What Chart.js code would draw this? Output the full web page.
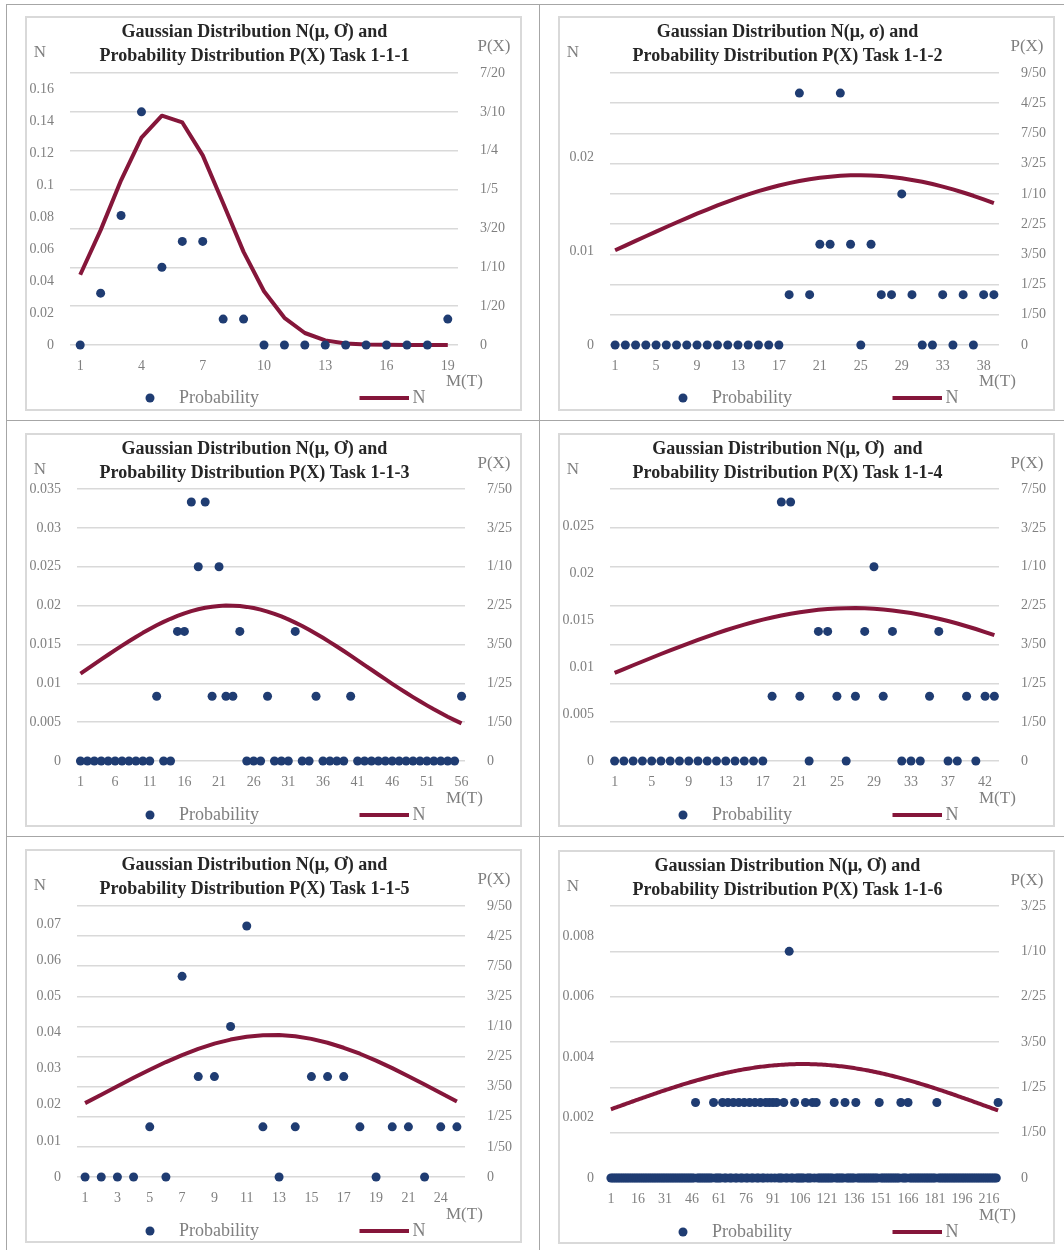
<!DOCTYPE html>
<html>
<head>
<meta charset="utf-8">
<title>Gaussian Distribution and Probability Distribution, Tasks 1-1-1 to 1-1-6</title>
<script src="https://cdn.jsdelivr.net/npm/chart.js"></script>
<style>
  html, body { margin: 0; padding: 0; background: #ffffff; }
  body { width: 1064px; height: 1250px; position: relative; overflow: hidden; }
  .rule { position: absolute; background: #a6a6a6; }
  .frame { position: absolute; border: 2px solid #d9d9d9; box-sizing: border-box; }
  .frame canvas { position: absolute; left: -2px; top: -2px; }
</style>
</head>
<body>
<div class="rule" style="left:6px;top:4px;width:1058px;height:1px"></div>
<div class="rule" style="left:6px;top:420px;width:1058px;height:1px"></div>
<div class="rule" style="left:6px;top:836px;width:1058px;height:1px"></div>
<div class="rule" style="left:6px;top:4px;width:1px;height:1246px"></div>
<div class="rule" style="left:539px;top:4px;width:1px;height:1246px"></div>
<script>
// ---------- Task 1-1-1 ----------
const cats1 = [1, 2, 3, 4, 5, 6, 7, 8, 9, 10, 11, 12, 13, 14, 15, 16, 17, 18, 19];
const prob1 = [0, 0.0667, 0.1667, 0.3, 0.1, 0.1333, 0.1333, 0.0333, 0.0333, 0, 0, 0, 0, 0, 0, 0, 0, 0, 0.0333];
const norm1 = [0.0439, 0.0718, 0.1029, 0.1296, 0.1433, 0.1391, 0.1185, 0.0886, 0.0582, 0.0336, 0.0170, 0.0075, 0.0029, 0.0010, 0.0003, 0.0001, 0.00002, 0, 0];
const leftTicks1 = [0, 0.02, 0.04, 0.06, 0.08, 0.1, 0.12, 0.14, 0.16];
const rightTicks1 = ['0', '1/20', '1/10', '3/20', '1/5', '1/4', '3/10', '7/20'];

// ---------- Task 1-1-2 ----------
const cats2 = [1, 2, 3, 4, 5, 6, 7, 8, 9, 10, 11, 12, 13, 14, 15, 16, 17, 18, 19, 20,
  21, 22, 23, 24, 25, 26, 27, 28, 29, 30, 31, 32, 33, 34, 35, 36, 38, 39];
const prob2 = [0, 0, 0, 0, 0, 0, 0, 0, 0, 0, 0, 0, 0, 0, 0, 0, 0,
  0.0333, 0.1667, 0.0333, 0.0667, 0.0667, 0.1667, 0.0667, 0, 0.0667, 0.0333, 0.0333, 0.1,
  0.0333, 0, 0, 0.0333, 0, 0.0333, 0, 0.0333, 0.0333];
const norm2 = [0.01010, 0.01060, 0.01110, 0.01159, 0.01209, 0.01258, 0.01306, 0.01353, 0.01400, 0.01444,
  0.01488, 0.01529, 0.01568, 0.01605, 0.01640, 0.01671, 0.01700, 0.01726, 0.01748, 0.01768,
  0.01783, 0.01795, 0.01804, 0.01809, 0.01810, 0.01807, 0.01801, 0.01791, 0.01777, 0.01760,
  0.01740, 0.01716, 0.01689, 0.01659, 0.01626, 0.01591, 0.01553, 0.01513];
const leftTicks2 = [0, 0.01, 0.02];
const rightTicks2 = ['0', '1/50', '1/25', '3/50', '2/25', '1/10', '3/25', '7/50', '4/25', '9/50'];

// ---------- Task 1-1-3 ----------
const cats3 = [1, 2, 3, 4, 5, 6, 7, 8, 9, 10, 11, 12, 13, 14, 15, 16, 17, 18, 19, 20,
  21, 22, 23, 24, 25, 26, 27, 28, 29, 30, 31, 32, 33, 34, 35, 36, 37, 38, 39, 40,
  41, 42, 43, 44, 45, 46, 47, 48, 49, 50, 51, 52, 53, 54, 55, 56];
const prob3 = [0, 0, 0, 0, 0, 0, 0, 0, 0, 0,
  0, 0.0333, 0, 0, 0.0667, 0.0667, 0.1333, 0.1, 0.1333, 0.0333,
  0.1, 0.0333, 0.0333, 0.0667, 0, 0, 0, 0.0333, 0, 0,
  0, 0.0667, 0, 0, 0.0333, 0, 0, 0, 0, 0.0333,
  0, 0, 0, 0, 0, 0, 0, 0, 0, 0,
  0, 0, 0, 0, 0, 0.0333];
const norm3 = [0.01125, 0.01186, 0.01247, 0.01307, 0.01367, 0.01427, 0.01485, 0.01541, 0.01596, 0.01649,
  0.01699, 0.01746, 0.01790, 0.01830, 0.01867, 0.01900, 0.01928, 0.01952, 0.01971, 0.01986,
  0.01995, 0.02000, 0.01999, 0.01994, 0.01983, 0.01968, 0.01948, 0.01923, 0.01893, 0.01860,
  0.01823, 0.01781, 0.01737, 0.01689, 0.01638, 0.01585, 0.01530, 0.01473, 0.01415, 0.01355,
  0.01295, 0.01234, 0.01174, 0.01113, 0.01053, 0.00993, 0.00935, 0.00878, 0.00822, 0.00768,
  0.00716, 0.00665, 0.00617, 0.00570, 0.00526, 0.00484];
const leftTicks3 = [0, 0.005, 0.01, 0.015, 0.02, 0.025, 0.03, 0.035];
const rightTicks3 = ['0', '1/50', '1/25', '3/50', '2/25', '1/10', '3/25', '7/50'];

// ---------- Task 1-1-4 ----------
const cats4 = [1, 2, 3, 4, 5, 6, 7, 8, 9, 10, 11, 12, 13, 14, 15, 16, 17, 18, 19, 20,
  21, 22, 23, 24, 25, 26, 27, 28, 29, 30, 31, 32, 33, 34, 35, 36, 37, 38, 39, 40,
  42, 43];
const prob4 = [0, 0, 0, 0, 0, 0, 0, 0, 0, 0, 0, 0, 0, 0, 0, 0, 0,
  0.0333, 0.1333, 0.1333, 0.0333, 0, 0.0667, 0.0667, 0.0333, 0, 0.0333, 0.0667, 0.1,
  0.0333, 0.0667, 0, 0, 0, 0.0333, 0.0667, 0, 0, 0.0333, 0, 0.0333, 0.0333];
const norm4 = [0.00940, 0.00980, 0.01021, 0.01061, 0.01101, 0.01141, 0.01180, 0.01218, 0.01255, 0.01292,
  0.01327, 0.01361, 0.01394, 0.01425, 0.01454, 0.01482, 0.01507, 0.01530, 0.01551, 0.01570,
  0.01586, 0.01600, 0.01612, 0.01620, 0.01626, 0.01629, 0.01630, 0.01628, 0.01623, 0.01615,
  0.01605, 0.01592, 0.01577, 0.01559, 0.01539, 0.01517, 0.01492, 0.01466, 0.01437, 0.01407,
  0.01375, 0.01341];
const leftTicks4 = [0, 0.005, 0.01, 0.015, 0.02, 0.025];
const rightTicks4 = ['0', '1/50', '1/25', '3/50', '2/25', '1/10', '3/25', '7/50'];

// ---------- Task 1-1-5 ----------
const cats5 = [1, 2, 3, 4, 5, 6, 7, 8, 9, 10, 11, 12, 13, 14, 15, 16, 17, 18, 19, 20, 21, 22, 24, 25];
const prob5 = [0, 0, 0, 0, 0.0333, 0, 0.1333, 0.0667, 0.0667, 0.1, 0.1667, 0.0333,
  0, 0.0333, 0.0667, 0.0667, 0.0667, 0.0333, 0, 0.0333, 0.0333, 0, 0.0333, 0.0333];
const norm5 = [0.02045, 0.02278, 0.02512, 0.02745, 0.02969, 0.03181, 0.03375, 0.03546, 0.03690, 0.03803,
  0.03882, 0.03923, 0.03927, 0.03893, 0.03822, 0.03715, 0.03577, 0.03411, 0.03221, 0.03013,
  0.02790, 0.02559, 0.02325, 0.02091];
const leftTicks5 = [0, 0.01, 0.02, 0.03, 0.04, 0.05, 0.06, 0.07];
const rightTicks5 = ['0', '1/50', '1/25', '3/50', '2/25', '1/10', '3/25', '7/50', '4/25', '9/50'];

// ---------- Task 1-1-6 ----------
const cats6 = [1, 2, 3, 4, 5, 6, 7, 8, 9, 10, 11, 12, 13, 14, 15, 16, 17, 18, 19, 20,
  21, 22, 23, 24, 25, 26, 27, 28, 29, 30, 31, 32, 33, 34, 35, 36, 37, 38, 39, 40,
  41, 42, 43, 44, 45, 46, 47, 48, 49, 50, 51, 52, 53, 54, 55, 56, 57, 58, 59, 60,
  61, 62, 63, 64, 65, 66, 67, 68, 69, 70, 71, 72, 73, 74, 75, 76, 77, 78, 79, 80,
  81, 82, 83, 84, 85, 86, 87, 88, 89, 90, 91, 92, 93, 94, 95, 96, 97, 98, 99, 100,
  101, 102, 103, 104, 105, 106, 107, 108, 109, 110, 111, 112, 113, 114, 115, 116, 117, 118, 119, 120,
  121, 122, 123, 124, 125, 126, 127, 128, 129, 130, 131, 132, 133, 134, 135, 136, 137, 138, 139, 140,
  141, 142, 143, 144, 145, 146, 147, 148, 149, 150, 151, 152, 153, 154, 155, 156, 157, 158, 159, 160,
  161, 162, 163, 164, 165, 166, 167, 168, 169, 170, 171, 172, 173, 174, 175, 176, 177, 178, 179, 180,
  181, 182, 183, 184, 185, 186, 187, 188, 189, 190, 191, 192, 193, 194, 195, 196, 197, 198, 199, 200,
  201, 202, 203, 204, 205, 206, 207, 208, 209, 210, 216, 217, 218, 219, 220, 221];
const prob6 = [
  0, 0, 0, 0, 0, 0, 0, 0, 0, 0,
  0, 0, 0, 0, 0, 0, 0, 0, 0, 0,
  0, 0, 0, 0, 0, 0, 0, 0, 0, 0,
  0, 0, 0, 0, 0, 0, 0, 0, 0, 0,
  0, 0, 0, 0, 0, 0, 0, 0.0333, 0, 0,
  0, 0, 0, 0, 0, 0, 0, 0.0333, 0, 0,
  0, 0, 0.0333, 0, 0, 0.0333, 0, 0, 0.0333, 0,
  0, 0.0333, 0, 0, 0.0333, 0, 0, 0.0333, 0, 0,
  0.0333, 0, 0, 0.0333, 0, 0, 0.0333, 0, 0.0333, 0,
  0.0333, 0, 0.0333, 0, 0, 0, 0.0333, 0, 0, 0.1,
  0, 0, 0.0333, 0, 0, 0, 0, 0, 0.0333, 0,
  0, 0, 0.0333, 0, 0.0333, 0, 0, 0, 0, 0,
  0, 0, 0, 0, 0.0333, 0, 0, 0, 0, 0,
  0.0333, 0, 0, 0, 0, 0, 0.0333, 0, 0, 0,
  0, 0, 0, 0, 0, 0, 0, 0, 0, 0.0333,
  0, 0, 0, 0, 0, 0, 0, 0, 0, 0,
  0, 0.0333, 0, 0, 0, 0.0333, 0, 0, 0, 0,
  0, 0, 0, 0, 0, 0, 0, 0, 0, 0,
  0, 0.0333, 0, 0, 0, 0, 0, 0, 0, 0,
  0, 0, 0, 0, 0, 0, 0, 0, 0, 0,
  0, 0, 0, 0, 0, 0, 0, 0, 0, 0,
  0, 0, 0, 0, 0, 0.0333];
const norm6 = [
  0.002274, 0.002295, 0.002317, 0.002338, 0.002360, 0.002381, 0.002403, 0.002424, 0.002446, 0.002467,
  0.002489, 0.002510, 0.002531, 0.002553, 0.002574, 0.002595, 0.002616, 0.002637, 0.002658, 0.002679,
  0.002700, 0.002721, 0.002742, 0.002762, 0.002783, 0.002803, 0.002823, 0.002844, 0.002864, 0.002884,
  0.002904, 0.002923, 0.002943, 0.002962, 0.002982, 0.003001, 0.003020, 0.003039, 0.003058, 0.003076,
  0.003095, 0.003113, 0.003131, 0.003149, 0.003167, 0.003184, 0.003202, 0.003219, 0.003236, 0.003252,
  0.003269, 0.003285, 0.003302, 0.003318, 0.003333, 0.003349, 0.003364, 0.003379, 0.003394, 0.003408,
  0.003423, 0.003437, 0.003451, 0.003464, 0.003478, 0.003491, 0.003503, 0.003516, 0.003528, 0.003540,
  0.003552, 0.003563, 0.003574, 0.003585, 0.003596, 0.003606, 0.003616, 0.003626, 0.003635, 0.003644,
  0.003653, 0.003662, 0.003670, 0.003678, 0.003685, 0.003693, 0.003699, 0.003706, 0.003712, 0.003718,
  0.003724, 0.003729, 0.003734, 0.003739, 0.003743, 0.003747, 0.003751, 0.003755, 0.003758, 0.003760,
  0.003763, 0.003765, 0.003766, 0.003768, 0.003769, 0.003770, 0.003770, 0.003770, 0.003770, 0.003769,
  0.003768, 0.003767, 0.003765, 0.003763, 0.003761, 0.003758, 0.003755, 0.003752, 0.003748, 0.003744,
  0.003740, 0.003735, 0.003730, 0.003725, 0.003720, 0.003714, 0.003707, 0.003701, 0.003694, 0.003687,
  0.003679, 0.003671, 0.003663, 0.003655, 0.003646, 0.003637, 0.003628, 0.003618, 0.003608, 0.003598,
  0.003587, 0.003577, 0.003565, 0.003554, 0.003542, 0.003531, 0.003518, 0.003506, 0.003493, 0.003480,
  0.003467, 0.003453, 0.003440, 0.003426, 0.003411, 0.003397, 0.003382, 0.003367, 0.003352, 0.003336,
  0.003321, 0.003305, 0.003289, 0.003272, 0.003256, 0.003239, 0.003222, 0.003205, 0.003188, 0.003170,
  0.003152, 0.003135, 0.003117, 0.003098, 0.003080, 0.003061, 0.003043, 0.003024, 0.003005, 0.002986,
  0.002966, 0.002947, 0.002927, 0.002908, 0.002888, 0.002868, 0.002848, 0.002828, 0.002807, 0.002787,
  0.002766, 0.002746, 0.002725, 0.002704, 0.002684, 0.002663, 0.002642, 0.002621, 0.002599, 0.002578,
  0.002557, 0.002536, 0.002514, 0.002493, 0.002472, 0.002450, 0.002429, 0.002407, 0.002386, 0.002364,
  0.002343, 0.002321, 0.002299, 0.002278, 0.002256, 0.002235];
const leftTicks6 = [0, 0.002, 0.004, 0.006, 0.008];
const rightTicks6 = ['0', '1/50', '1/25', '3/50', '2/25', '1/10', '3/25'];

// ---------- styling ----------
const FONT = "'Liberation Serif', 'Times New Roman', serif";
const NAVY = '#1f3c72';
const MAROON = '#85163a';
const GRID = '#d9d9d9';
const GREY = '#7f7f7f';
const INK = '#262626';

Chart.defaults.font.family = FONT;
Chart.defaults.color = GREY;

const fracValue = s => { const p = s.split('/'); return p.length > 1 ? Number(p[0]) / Number(p[1]) : Number(p[0]); };

// Title, axis captions and legend drawn around the plot area
const panelText = {
  id: 'panelText',
  afterDraw(chart, _args, o) {
    const ctx = chart.ctx;
    const [dsP, dsN] = chart.data.datasets;
    ctx.save();
    ctx.textBaseline = 'middle';
    ctx.textAlign = 'center';
    ctx.fillStyle = INK;
    ctx.font = 'bold 18px ' + FONT;
    ctx.fillText(o.title[0], o.titleX, o.titleY[0]);
    ctx.fillText(o.title[1], o.titleX, o.titleY[1]);

    ctx.fillStyle = GREY;
    ctx.font = '17px ' + FONT;
    ctx.fillText('N', o.nCap[0], o.nCap[1]);
    ctx.fillText('P(X)', o.pCap[0], o.pCap[1]);
    ctx.textAlign = 'left';
    ctx.fillText('M(T)', o.mCap[0], o.mCap[1]);

    const ly = o.legendY;
    ctx.fillStyle = NAVY;
    ctx.beginPath();
    ctx.arc(o.legendX.dot, ly, 4.5, 0, Math.PI * 2);
    ctx.fill();
    ctx.fillStyle = GREY;
    ctx.font = '18px ' + FONT;
    ctx.fillText(dsP.label, o.legendX.text, ly);
    ctx.strokeStyle = MAROON;
    ctx.lineWidth = 4;
    ctx.beginPath();
    ctx.moveTo(o.legendX.line[0], ly);
    ctx.lineTo(o.legendX.line[1], ly);
    ctx.stroke();
    ctx.fillText(dsN.label, o.legendX.n, ly);
    ctx.restore();
  }
};

const panels = [
  { frame: [25, 16, 497, 395], area: [45, 57, 433, 329], sigma: 'Ơ', gap: ' ', task: '1-1-1',
    cats: cats1, prob: prob1, norm: norm1, left: leftTicks1, leftMax: 0.17, right: rightTicks1, step: 3 },
  { frame: [558, 16, 497, 395], area: [52, 57, 441, 329], sigma: 'σ', gap: ' ', task: '1-1-2',
    cats: cats2, prob: prob2, norm: norm2, left: leftTicks2, leftMax: 0.029, right: rightTicks2, step: 4 },
  { frame: [25, 433, 497, 394], area: [52, 56, 440, 328], sigma: 'Ơ', gap: ' ', task: '1-1-3',
    cats: cats3, prob: prob3, norm: norm3, left: leftTicks3, leftMax: 0.035, right: rightTicks3, step: 5 },
  { frame: [558, 433, 497, 394], area: [52, 56, 441, 328], sigma: 'Ơ', gap: '  ', task: '1-1-4',
    cats: cats4, prob: prob4, norm: norm4, left: leftTicks4, leftMax: 0.029, right: rightTicks4, step: 4 },
  { frame: [25, 849, 497, 394], area: [52, 57, 440, 328], sigma: 'Ơ', gap: ' ', task: '1-1-5',
    cats: cats5, prob: prob5, norm: norm5, left: leftTicks5, leftMax: 0.075, right: rightTicks5, step: 2 },
  { frame: [558, 850, 497, 394], area: [52, 56, 441, 328], sigma: 'Ơ', gap: ' ', task: '1-1-6',
    cats: cats6, prob: prob6, norm: norm6, left: leftTicks6, leftMax: 0.009, right: rightTicks6, step: 15 }
];

panels.forEach(p => {
  const [fx, fy, fw, fh] = p.frame;
  const [L, T, R, B] = p.area;
  const box = document.createElement('div');
  box.className = 'frame';
  box.style.left = fx + 'px';
  box.style.top = fy + 'px';
  box.style.width = fw + 'px';
  box.style.height = fh + 'px';
  const canvas = document.createElement('canvas');
  canvas.width = fw;
  canvas.height = fh;
  canvas.style.width = fw + 'px';
  canvas.style.height = fh + 'px';
  box.appendChild(canvas);
  document.body.appendChild(box);

  const tickFont = { family: FONT, size: 14 };
  const rightMax = fracValue(p.right[p.right.length - 1]);

  new Chart(canvas, {
    type: 'line',
    data: {
      labels: p.cats,
      datasets: [
        { label: 'Probability', data: p.prob, yAxisID: 'y2', showLine: false,
          pointRadius: 4.5, pointHoverRadius: 4.5, pointBorderWidth: 0,
          pointBackgroundColor: NAVY, backgroundColor: NAVY, borderColor: NAVY, clip: false },
        { label: 'N', data: p.norm, yAxisID: 'y', borderColor: MAROON, borderWidth: 4,
          pointRadius: 0, tension: 0, borderJoinStyle: 'round', fill: false, clip: false }
      ]
    },
    options: {
      responsive: false,
      devicePixelRatio: 1,
      animation: false,
      events: [],
      layout: { padding: { top: T, left: 0, right: 0, bottom: 0 } },
      plugins: {
        legend: { display: false },
        tooltip: { enabled: false },
        panelText: {
          title: ['Gaussian Distribution N(μ, ' + p.sigma + ')' + p.gap + 'and',
                  'Probability Distribution P(X) Task ' + p.task],
          titleX: 229.5, titleY: [16, 40],
          nCap: [15, 37], pCap: [469, 31], mCap: [421, 366],
          legendY: 382,
          legendX: { dot: 125, text: 154, line: [334.5, 384], n: 387.5 }
        }
      },
      scales: {
        x: {
          type: 'category', offset: true,
          grid: { display: false, drawTicks: false },
          border: { display: false },
          ticks: { autoSkip: false, maxRotation: 0, minRotation: 0, padding: 13, font: tickFont, color: GREY,
            callback: (v, i) => (i % p.step === 0 ? String(p.cats[i]) : '') },
          afterFit: s => { s.height = fh - B; }
        },
        y: {
          position: 'left', min: 0, max: p.leftMax,
          grid: { display: false, drawTicks: false },
          border: { display: false },
          ticks: { padding: 16, font: tickFont, color: GREY, callback: v => String(v) },
          afterBuildTicks: s => { s.ticks = p.left.map(v => ({ value: v })); },
          afterFit: s => { s.width = L; }
        },
        y2: {
          position: 'right', min: 0, max: rightMax,
          grid: { color: GRID, lineWidth: 1.5, drawTicks: false },
          border: { display: false },
          ticks: { padding: 22, font: tickFont, color: GREY,
            callback: (v, i) => p.right[i] },
          afterBuildTicks: s => { s.ticks = p.right.map(t => ({ value: fracValue(t) })); },
          afterFit: s => { s.width = fw - R; }
        }
      }
    },
    plugins: [panelText]
  });
});
</script>
</body>
</html>
